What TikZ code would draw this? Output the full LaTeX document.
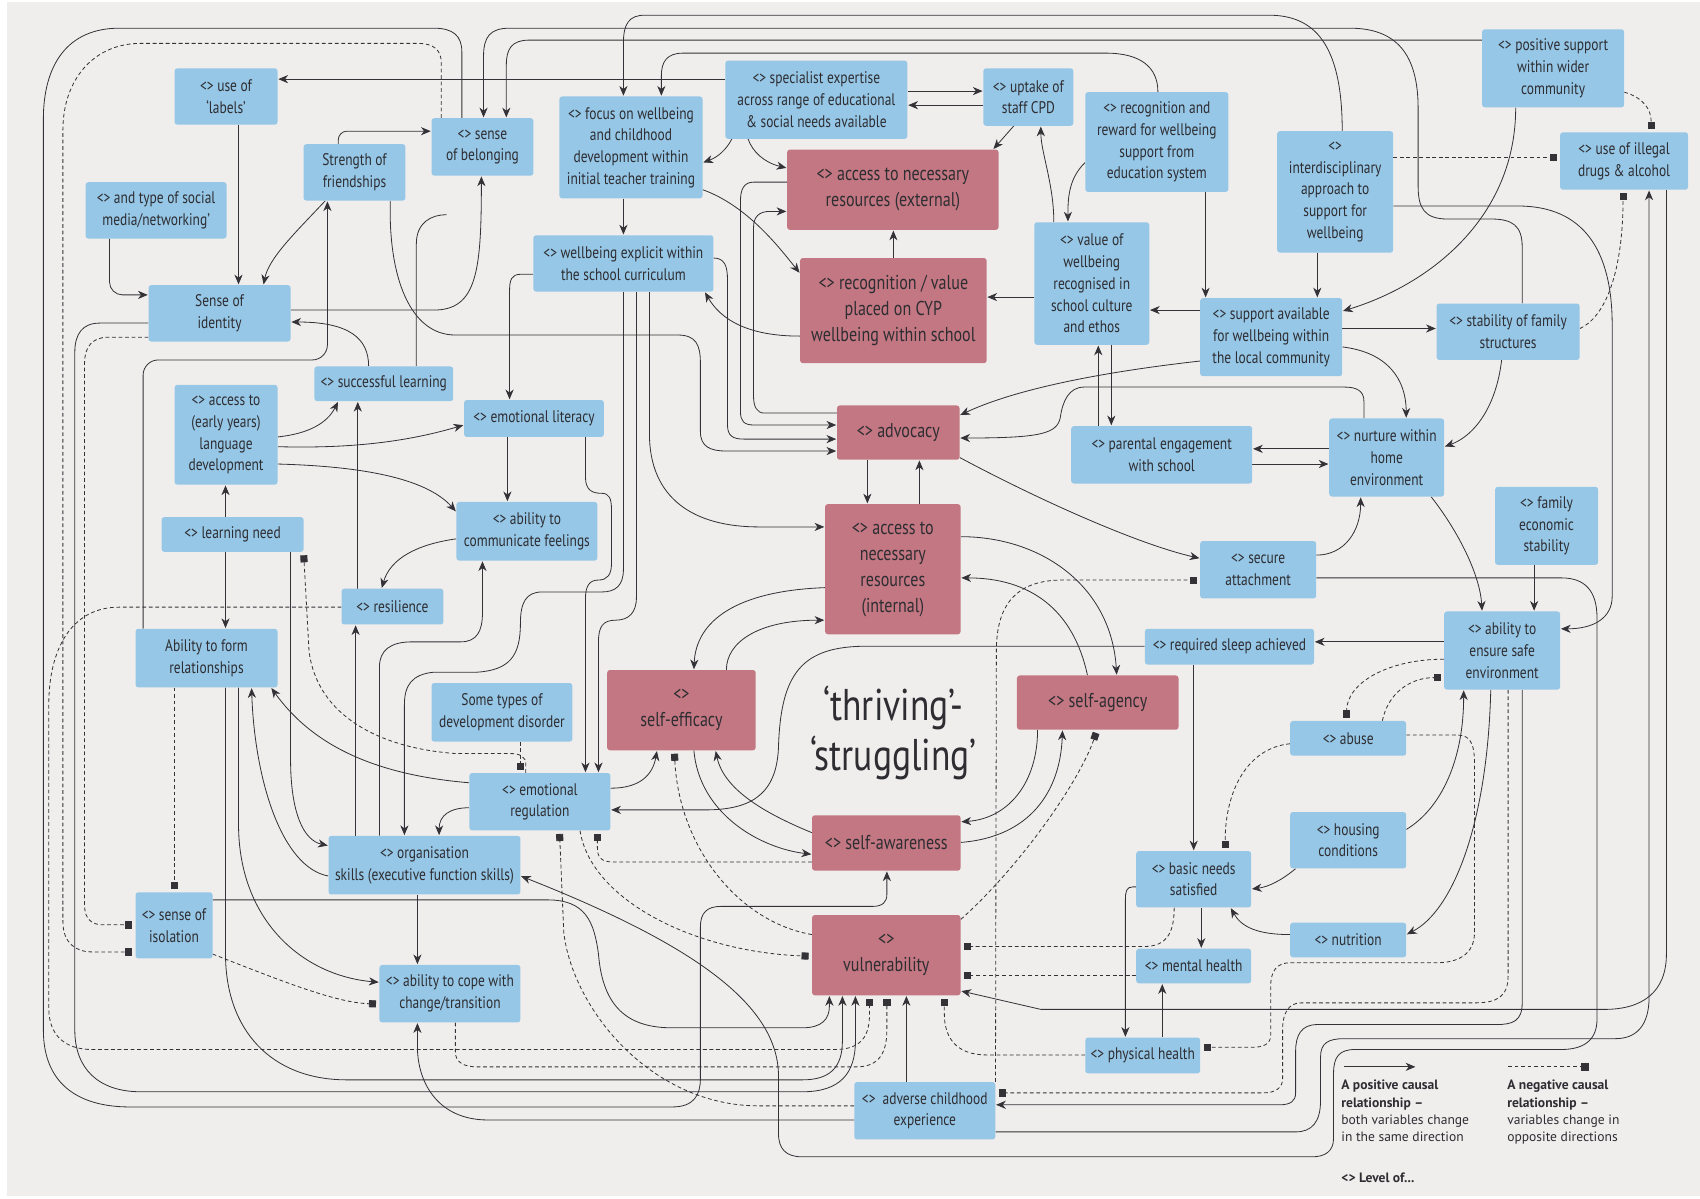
\documentclass[tikz,border=0pt]{standalone}
\usepackage{fontspec}
\setmainfont{PT Sans}[FakeStretch=0.8]
\newfontfamily\legfam{PT Sans}
\usetikzlibrary{arrows.meta}
\definecolor{bgc}{RGB}{240,238,237}
\definecolor{blu}{RGB}{150,199,230}
\definecolor{pnk}{RGB}{195,119,130}
\definecolor{txt}{RGB}{45,45,50}
\definecolor{ln}{RGB}{50,50,55}
\newcommand\nfnt{\fontsize{15.5}{20}\selectfont}
\newcommand\pfnt{\fontsize{18.5}{24}\selectfont}
\newcommand\tfnt{\fontsize{41}{46}\selectfont}
\newcommand\lfnt{\legfam\fontsize{12.5}{16}\selectfont}
\pgfdeclarelayer{back}
\pgfdeclarelayer{lines}
\pgfsetlayers{back,lines,main}
\tikzset{
  bn/.style={rectangle, rounded corners=2.5pt, fill=blu, text=txt, align=center, inner sep=1pt, font=\nfnt},
  pn/.style={bn, fill=pnk, font=\pfnt},
  posarr/.style={draw=ln, line width=0.75pt, -{Stealth[length=9pt,width=7.5pt,inset=2.8pt]}, shorten >=0.5pt},
  negarr/.style={draw=ln, line width=0.75pt, dash pattern=on 3.5pt off 2.5pt, -{Square[length=6.5pt,width=6.5pt]}, shorten >=3pt},
  plainln/.style={draw=ln, line width=0.75pt},
}
\begin{document}
\begin{tikzpicture}[x=1pt,y=-1pt]
\useasboundingbox (0,0) rectangle (1568,1105);
\begin{pgfonlayer}{back}
\fill[white] (0,0) rectangle (1568,1105);
\fill[bgc] (6,2) rectangle (1568,1103);
\end{pgfonlayer}

% ---------- blue nodes ----------
\node[bn, minimum width=95, minimum height=52] (labels) at (208.5,89) {<> use of\\‘labels’};
\node[bn, minimum width=94, minimum height=53] (belong) at (445,135.5) {<> sense\\of belonging};
\node[bn, minimum width=94, minimum height=52] (friend) at (327,159) {Strength of\\friendships};
\node[bn, minimum width=130, minimum height=52] (social) at (144,194) {<> and type of social\\media/networking’};
\node[bn, minimum width=131, minimum height=52] (identity) at (202.5,289) {Sense of\\identity};
\node[bn, minimum width=128, minimum height=32] (succ) at (354,354) {<> successful learning};
\node[bn, minimum width=95, minimum height=92] (lang) at (208.5,401) {<> access to\\(early years)\\language\\development};
\node[bn, minimum width=131, minimum height=32] (learnneed) at (214.5,493) {<> learning need};
\node[bn, minimum width=94, minimum height=33] (resil) at (362,559.5) {<> resilience};
\node[bn, minimum width=131, minimum height=54] (ablerel) at (190.5,607) {Ability to form\\relationships};
\node[bn, minimum width=71, minimum height=61] (isolation) at (160.5,853.5) {<> sense of\\isolation};
\node[bn, minimum width=177, minimum height=54] (org) at (391.5,798) {<> organisation\\skills (executive function skills)};
\node[bn, minimum width=130, minimum height=53] (cope) at (415,916.5) {<> ability to cope with\\change/transition};
\node[bn, minimum width=130, minimum height=54] (devdis) at (463,657) {Some types of\\development disorder};
\node[bn, minimum width=130, minimum height=53] (emoreg) at (498,739.5) {<> emotional\\regulation};
\node[bn, minimum width=129, minimum height=34] (emolit) at (492.5,386) {<> emotional literacy};
\node[bn, minimum width=130, minimum height=54] (commfeel) at (486,490) {<> ability to\\communicate feelings};
\node[bn, minimum width=166, minimum height=52] (curric) at (575,243) {<> wellbeing explicit within\\the school curriculum};
\node[bn, minimum width=132, minimum height=94] (focus) at (582,136) {<> focus on wellbeing\\and childhood\\development within\\initial teacher training};
\node[bn, minimum width=168, minimum height=72] (special) at (753,92) {<> specialist expertise\\across range of educational\\\& social needs available};
\node[bn, minimum width=83, minimum height=53] (cpd) at (948.5,89.5) {<> uptake of\\staff CPD};
\node[bn, minimum width=132, minimum height=92] (recog) at (1067,131) {<> recognition and\\reward for wellbeing\\support from\\education system};
\node[bn, minimum width=106, minimum height=113] (value) at (1007,261.5) {<> value of\\wellbeing\\recognised in\\school culture\\and ethos};
\node[bn, minimum width=107, minimum height=112] (interdis) at (1231.5,177) {<>\\interdisciplinary\\approach to\\support for\\wellbeing};
\node[bn, minimum width=131, minimum height=72] (possupp) at (1432.5,63) {<> positive support\\within wider\\community};
\node[bn, minimum width=118, minimum height=53] (drugs) at (1498,148.5) {<> use of illegal\\drugs \& alcohol};
\node[bn, minimum width=131, minimum height=72] (suppavail) at (1172.5,311) {<> support available\\for wellbeing within\\the local community};
\node[bn, minimum width=132, minimum height=52] (stabfam) at (1391,306) {<> stability of family\\structures};
\node[bn, minimum width=167, minimum height=53] (parent) at (1071.5,419.5) {<> parental engagement\\with school};
\node[bn, minimum width=106, minimum height=72] (nurture) at (1279,422) {<> nurture within\\home\\environment};
\node[bn, minimum width=95, minimum height=72] (famecon) at (1426.5,485) {<> family\\economic\\stability};
\node[bn, minimum width=107, minimum height=53] (secure) at (1160.5,525.5) {<> secure\\attachment};
\node[bn, minimum width=156, minimum height=33] (sleep) at (1134,596.5) {<> required sleep achieved};
\node[bn, minimum width=107, minimum height=72] (safeenv) at (1385.5,600) {<> ability to\\ensure safe\\environment};
\node[bn, minimum width=107, minimum height=32] (abuse) at (1243.5,681) {<> abuse};
\node[bn, minimum width=107, minimum height=52] (housing) at (1243.5,775) {<> housing\\conditions};
\node[bn, minimum width=106, minimum height=52] (basic) at (1101,811) {<> basic needs\\satisfied};
\node[bn, minimum width=107, minimum height=32] (nutrition) at (1243.5,867) {<> nutrition};
\node[bn, minimum width=106, minimum height=32] (mental) at (1101,891) {<> mental health};
\node[bn, minimum width=106, minimum height=33] (physical) at (1054,973.5) {<> physical health};
\node[bn, minimum width=130, minimum height=53] (adverse) at (853,1024.5) {<>\ \ adverse childhood\\experience};
% ---------- pink nodes ----------
\node[pn, minimum width=195, minimum height=74] (accext) at (823.5,175) {<> access to necessary\\resources (external)};
\node[pn, minimum width=172, minimum height=97] (recval) at (824,286.5) {<> recognition / value\\placed on CYP\\wellbeing within school};
\node[pn, minimum width=113, minimum height=50] (advocacy) at (828.5,399) {<> advocacy};
\node[pn, minimum width=125, minimum height=120] (accint) at (823.5,525) {<> access to\\necessary\\resources\\(internal)};
\node[pn, minimum width=137, minimum height=74] (efficacy) at (628.5,655) {<>\\self-efficacy};
\node[pn, minimum width=149, minimum height=50] (agency) at (1012.5,648) {<> self-agency};
\node[pn, minimum width=137, minimum height=51] (awareness) at (817.5,777.5) {<> self-awareness};
\node[pn, minimum width=137, minimum height=74] (vuln) at (817.5,881) {<>\\vulnerability};

\node[text=txt, font=\tfnt, align=center] (title) at (824,676) {‘thriving’-\\‘struggling’};

% ---------- legend ----------
\coordinate (lpa) at (1240,984); \coordinate (lpb) at (1306,984);
\coordinate (lna) at (1391,984); \coordinate (lnb) at (1465,984);
\draw[posarr] (lpa) -- (lpb);
\draw[negarr, shorten >=0pt] (lna) -- (lnb);
\node[anchor=north west, align=left, text=txt, font=\lfnt, inner sep=0] (legp) at (1237,996) {\textbf{A positive causal}\\\textbf{relationship –}\\both variables change\\in the same direction};
\node[anchor=north west, align=left, text=txt, font=\lfnt, inner sep=0] (legn) at (1390,996) {\textbf{A negative causal}\\\textbf{relationship –}\\variables change in\\opposite directions};
\node[anchor=west, text=txt, font=\lfnt, inner sep=0] (legl) at (1237,1086) {\textbf{<> Level of...}};

\begin{pgfonlayer}{lines}
% ---------- top-left ----------
\draw[posarr] (special.west |- 0,73) -- (labels.east |- 0,73);
\draw[posarr] (labels.south -| 220,0) -- (identity.north -| 220,0);
\draw[posarr, rounded corners=12] (social.south -| 101,0) -- (101,272) -- (identity.west |- 0,272);
\draw[posarr] (friend.south -| 300,0) .. controls (272,215) and (248,238) .. (identity.north -| 243,0);
\draw[posarr, rounded corners=8] (friend.north -| 312,0) -- (312,121) -- (belong.west |- 0,121);
\draw[posarr] (succ.north -| 340,0) .. controls (340,312) and (322,297) .. (identity.east |- 0,297);
\draw[posarr, rounded corners=14] (ablerel.north -| 132,0) -- (132,332) -- (302,332) -- (friend.south -| 302,0);
\draw[posarr] (identity.east |- 0,286) -- (400,286) .. controls (440,286) and (444,250) .. (belong.south -| 444,0);
\coordinate (succend) at (412,198);
\draw[plainln] (succ.north -| 384,0) -- (384,225) .. controls (384,205) and (398,198) .. (succend);
\draw[posarr] (friend.south -| 360,0) .. controls (358,255) and (378,309) .. (420,309) -- (625,309) .. controls (642,309) and (646,318) .. (646,335) -- (646,398) .. controls (646,412) and (655,416) .. (670,416) -- (advocacy.west |- 0,416);

% ---------- top long lines ----------
\draw[posarr] (interdis.north -| 1238,0) .. controls (1238,40) and (1212,14) .. (1170,14) -- (595,14) .. controls (580,14) and (575,22) .. (575,40) -- (focus.north -| 575,0);
\draw[posarr] (stabfam.north -| 1404,0) -- (1404,228) .. controls (1404,208) and (1395,202) .. (1375,202) -- (1335,202) .. controls (1314,202) and (1308,192) .. (1308,172) -- (1308,100) .. controls (1308,50) and (1288,26) .. (1245,26) -- (470,26) .. controls (452,26) and (446,34) .. (446,52) -- (belong.north -| 446,0);
\draw[posarr] (possupp.west |- 0,37) -- (488,37) .. controls (472,37) and (467,45) .. (467,60) -- (belong.north -| 467,0);
\draw[posarr] (recog.north -| 1068,0) .. controls (1068,62) and (1052,49) .. (1020,49) -- (630,49) .. controls (615,49) and (610,57) .. (610,70) -- (focus.north -| 610,0);
\draw[posarr] (belong.north -| 426,0) -- (426,48) .. controls (426,33) and (418,26) .. (400,26) -- (110,26) .. controls (62,26) and (40,60) .. (40,110) -- (40,950) .. controls (40,998) and (70,1021) .. (120,1021) -- (620,1021) .. controls (640,1021) and (646,1010) .. (646,995) -- (646,855) .. controls (646,842) and (652,836) .. (665,836) -- (805,836) .. controls (814,836) and (818,832) .. (818,825) -- (awareness.south -| 818,0);
\draw[negarr] (belong.north -| 407,0) -- (407,58) .. controls (407,46) and (400,40) .. (385,40) -- (130,40) .. controls (85,40) and (58,75) .. (58,120) -- (58,850) .. controls (58,870) and (70,878) .. (85,878) -- (isolation.west |- 0,878);
\draw[posarr] (identity.west |- 0,298) -- (92,298) .. controls (76,298) and (69,308) .. (69,325) -- (69,950) .. controls (69,985) and (90,1007) .. (130,1007) -- (740,1007) .. controls (775,1007) and (789,990) .. (789,960) -- (vuln.south -| 789,0);
\draw[negarr] (identity.west |- 0,311) -- (100,311) .. controls (85,311) and (78,320) .. (78,335) -- (78,835) .. controls (78,848) and (85,853) .. (95,853) -- (isolation.west |- 0,853);
\draw[negarr] (resil.west |- 0,560) -- (110,560) .. controls (65,560) and (45,600) .. (45,650) -- (45,930) .. controls (45,955) and (60,968) .. (85,968) -- (770,968) .. controls (795,968) and (802,955) .. (802,935) -- (vuln.south -| 802,0);
\draw[posarr] (ablerel.south -| 208,0) -- (208,880) .. controls (208,950) and (250,996) .. (320,996) -- (740,996) .. controls (765,996) and (777,985) .. (777,960) -- (vuln.south -| 777,0);
\draw[negarr] (cope.south -| 420,0) -- (420,970) .. controls (420,980) and (428,984) .. (440,984) -- (790,984) .. controls (810,984) and (818,972) .. (818,950) -- (vuln.south -| 818,0);
\draw[posarr] (isolation.east |- 0,830) -- (505,830) .. controls (540,830) and (548,850) .. (552,880) .. controls (556,930) and (580,948) .. (620,948) -- (740,948) .. controls (758,948) and (765,940) .. (765,928) -- (vuln.south -| 765,0);
\draw[posarr] (adverse.north -| 836,0) -- (vuln.south -| 836,0);
\draw[negarr] (physical.west |- 0,973) -- (910,973) .. controls (880,973) and (871,955) .. (871,935) -- (vuln.south -| 871,0);
\draw[negarr] (basic.south -| 1083,0) .. controls (1083,862) and (1075,873) .. (1055,873) -- (vuln.east |- 0,873);
\draw[negarr] (mental.west |- 0,900) -- (vuln.east |- 0,900);
\draw[posarr] (drugs.south -| 1537,0) -- (1537,880) .. controls (1537,915) and (1515,931) .. (1480,931) -- (960,931) -- (vuln.east |- 0,914);
\draw[posarr] (adverse.west |- 0,1033) -- (450,1033) .. controls (405,1033) and (385,1000) .. (385,965) -- (cope.south -| 385,0);
\draw[negarr] (adverse.west |- 0,1020) -- (700,1020) .. controls (600,1020) and (528,930) .. (520,860) -- (emoreg.south -| 516,0);
\draw[negarr] (emoreg.south -| 535,0) .. controls (545,830) and (640,878) .. (vuln.west |- 0,882);
\draw[negarr] (awareness.west |- 0,795) -- (565,795) .. controls (554,795) and (551,790) .. (551,782) -- (emoreg.south -| 551,0);
\draw[negarr] (vuln.west |- 0,862) .. controls (680,850) and (626,780) .. (efficacy.south -| 622,0);
\draw[posarr] (emoreg.east |- 0,727) .. controls (590,727) and (602,715) .. (efficacy.south -| 606,0);
\draw[posarr] (efficacy.south -| 640,0) .. controls (645,750) and (700,782) .. (awareness.west |- 0,788);
\draw[posarr] (awareness.west |- 0,768) .. controls (710,752) and (668,730) .. (efficacy.south -| 660,0);
\draw[posarr] (accint.west |- 0,542) .. controls (680,545) and (642,572) .. (efficacy.north -| 640,0);
\draw[posarr] (efficacy.north -| 670,0) .. controls (670,592) and (700,572) .. (accint.west |- 0,572);
\draw[posarr] (sleep.west |- 0,596) -- (800,596) .. controls (740,596) and (720,620) .. (718,690) .. controls (716,735) and (690,747) .. (650,747) -- (emoreg.east |- 0,747);
\draw[posarr] (accint.east |- 0,495) .. controls (960,495) and (1025,540) .. (agency.north -| 1030,0);
\draw[posarr] (agency.north -| 1003,0) .. controls (990,562) and (950,533) .. (accint.east |- 0,533);
\draw[posarr] (agency.south -| 957,0) .. controls (957,722) and (930,755) .. (awareness.east |- 0,758);
\draw[posarr] (awareness.east |- 0,777) .. controls (950,772) and (978,730) .. (agency.south -| 980,0);
\draw[negarr] (vuln.east |- 0,848) .. controls (940,800) and (995,722) .. (agency.south -| 1012,0);
\draw[negarr] (adverse.north east) -- (919,600) .. controls (919,555) and (940,535) .. (980,535) -- (secure.west |- 0,535);
\draw[posarr] (advocacy.east |- 0,422) .. controls (960,462) and (1050,502) .. (secure.west |- 0,515);
\draw[posarr] (advocacy.south -| 800,0) -- (accint.north -| 800,0);
\draw[posarr] (accint.north -| 848,0) -- (advocacy.south -| 848,0);
\draw[posarr] (suppavail.west |- 0,333) .. controls (1000,345) and (930,362) .. (advocacy.east |- 0,383);
\draw[posarr] (nurture.north -| 1258,0) -- (1258,370) .. controls (1258,361) and (1252,357) .. (1240,357) -- (1000,357) .. controls (986,357) and (980,370) .. (978,385) .. controls (975,400) and (960,404) .. (advocacy.east |- 0,404);
\draw[posarr] (value.south -| 1025,0) -- (parent.north -| 1025,0);
\draw[posarr] (parent.north -| 1013,0) -- (value.south -| 1013,0);
\draw[posarr] (nurture.west |- 0,414) -- (parent.east |- 0,414);
\draw[posarr] (parent.east |- 0,428) -- (nurture.west |- 0,428);
\draw[posarr] (suppavail.east |- 0,320) .. controls (1280,325) and (1297,350) .. (nurture.north -| 1297,0);
\draw[posarr] (stabfam.south -| 1385,0) .. controls (1380,375) and (1360,402) .. (nurture.east |- 0,412);
\draw[posarr] (secure.east |- 0,512) .. controls (1240,512) and (1255,490) .. (nurture.south -| 1255,0);
\draw[posarr] (nurture.south -| 1320,0) .. controls (1345,490) and (1365,530) .. (safeenv.north -| 1367,0);
\draw[posarr] (famecon.south -| 1415,0) -- (safeenv.north -| 1415,0);
\draw[posarr] (safeenv.west |- 0,592) -- (sleep.east |- 0,592);
\draw[posarr] (sleep.south -| 1101,0) -- (basic.north -| 1101,0);
\draw[negarr] (abuse.west |- 0,686) .. controls (1150,690) and (1130,730) .. (basic.north -| 1130,0);
\draw[negarr] (safeenv.west |- 0,608) .. controls (1280,608) and (1242,630) .. (abuse.north -| 1242,0);
\draw[negarr] (abuse.north -| 1275,0) .. controls (1280,640) and (1300,625) .. (safeenv.west |- 0,625);
\draw[posarr] (housing.east |- 0,765) .. controls (1330,745) and (1350,700) .. (safeenv.south -| 1350,0);
\draw[posarr] (safeenv.south -| 1375,0) .. controls (1372,760) and (1340,840) .. (nutrition.east |- 0,862);
\draw[posarr] (housing.south -| 1195,0) .. controls (1182,812) and (1170,818) .. (basic.east |- 0,820);
\draw[posarr] (nutrition.west |- 0,862) .. controls (1160,862) and (1145,855) .. (basic.south -| 1135,0);
\draw[posarr] (basic.south -| 1108,0) -- (mental.north -| 1108,0);
\draw[posarr] (basic.west |- 0,818) -- (1045,818) .. controls (1039,818) and (1038,822) .. (1038,830) -- (physical.north -| 1038,0);
\draw[posarr] (physical.north -| 1072,0) -- (mental.south -| 1072,0);
\draw[negarr] (abuse.east |- 0,678) -- (1345,678) .. controls (1358,678) and (1360,690) .. (1360,705) -- (1360,860) .. controls (1360,880) and (1345,888) .. (1325,888) -- (1190,888) .. controls (1178,888) and (1172,895) .. (1172,910) -- (1172,955) .. controls (1172,963) and (1165,966) .. (1155,966) -- (physical.east |- 0,966);
\draw[negarr] (safeenv.south -| 1391,0) -- (1391,900) .. controls (1391,920) and (1380,925) .. (1360,925) -- (1200,925) .. controls (1188,925) and (1183,935) .. (1183,950) -- (1183,995) .. controls (1183,1003) and (1177,1008) .. (1165,1008) -- (adverse.east |- 0,1008);
\draw[posarr] (safeenv.south -| 1404,0) -- (1404,925) .. controls (1404,942) and (1395,945) .. (1380,945) -- (1215,945) .. controls (1200,945) and (1195,955) .. (1195,970) -- (1195,1008) .. controls (1195,1016) and (1190,1019) .. (1180,1019) -- (adverse.east |- 0,1019);
\draw[posarr] (adverse.east |- 0,1044) -- (1195,1044) .. controls (1210,1044) and (1218,1035) .. (1218,1015) -- (1218,975) .. controls (1218,962) and (1225,958) .. (1240,958) -- (1490,958) .. controls (1510,958) and (1521,945) .. (1521,920) -- (drugs.south -| 1521,0);
\draw[posarr] (secure.east |- 0,533) -- (1440,533) .. controls (1462,533) and (1473,545) .. (1473,570) -- (1473,940) .. controls (1473,960) and (1460,968) .. (1440,968) -- (1250,968) .. controls (1235,968) and (1230,975) .. (1230,990) -- (1230,1050) .. controls (1230,1062) and (1222,1067) .. (1210,1067) -- (740,1067) .. controls (725,1067) and (718,1060) .. (718,1045) -- (718,990) .. controls (716,930) and (650,875) .. (org.east |- 0,808);
\draw[posarr] (interdis.east |- 0,190) -- (1400,190) .. controls (1460,190) and (1487,230) .. (1487,300) -- (1487,550) .. controls (1487,570) and (1470,580) .. (safeenv.east |- 0,580);
\draw[posarr] (possupp.south -| 1398,0) .. controls (1398,200) and (1320,262) .. (suppavail.east |- 0,287);
\draw[negarr] (interdis.east |- 0,145) -- (drugs.west |- 0,145);
\draw[negarr] (possupp.east |- 0,85) .. controls (1515,90) and (1523,100) .. (drugs.north -| 1523,0);
\draw[negarr] (stabfam.east |- 0,303) .. controls (1485,290) and (1497,240) .. (drugs.south -| 1497,0);
\draw[posarr] (interdis.south -| 1215,0) -- (suppavail.north -| 1215,0);
\draw[posarr] (recog.south -| 1112,0) -- (suppavail.north -| 1112,0);
\draw[posarr] (suppavail.west |- 0,286) -- (value.east |- 0,286);
\draw[posarr] (suppavail.east |- 0,303) -- (stabfam.west |- 0,303);
\draw[posarr] (recog.west |- 0,150) .. controls (985,165) and (985,185) .. (value.north -| 985,0);
\draw[posarr] (value.north -| 972,0) .. controls (972,170) and (960,140) .. (cpd.south -| 960,0);
\draw[posarr] (cpd.south -| 935,0) -- (accext.north -| 916,0);
\draw[posarr] (special.east |- 0,84) -- (cpd.west |- 0,84);
\draw[posarr] (cpd.west |- 0,97) -- (special.east |- 0,97);
\draw[posarr] (special.south -| 675,0) .. controls (670,138) and (662,145) .. (focus.east |- 0,150);
\draw[posarr] (special.south -| 690,0) .. controls (694,140) and (705,150) .. (accext.west |- 0,155);
\draw[posarr] (focus.east |- 0,175) .. controls (690,190) and (720,230) .. (recval.west |- 0,252);
\draw[posarr] (recval.north -| 824,0) -- (accext.south -| 824,0);
\draw[posarr] (value.west |- 0,274) -- (recval.east |- 0,274);
\draw[posarr] (recval.west |- 0,310) .. controls (690,310) and (665,295) .. (curric.south -| 650,0);
\draw[posarr] (focus.south -| 575,0) -- (curric.north -| 575,0);
\draw[posarr] (curric.east |- 0,238) .. controls (668,238) and (671,245) .. (671,258) -- (671,392) .. controls (671,402) and (676,405) .. (686,405) -- (advocacy.west |- 0,405);
\draw[posarr] (accext.west |- 0,168) -- (695,168) .. controls (686,168) and (683,175) .. (683,185) -- (683,380) .. controls (683,388) and (686,392) .. (695,392) -- (advocacy.west |- 0,392);
\draw[posarr] (advocacy.west |- 0,381) -- (705,381) .. controls (698,381) and (695,375) .. (695,365) -- (695,210) .. controls (695,200) and (700,195) .. (710,195) -- (accext.west |- 0,195);
\draw[posarr] (curric.south -| 599,0) -- (599,400) .. controls (599,460) and (640,486) .. (700,486) -- (accint.west |- 0,486);
\draw[posarr] (curric.south -| 587,0) -- (587,551) .. controls (587,565) and (580,572) .. (568,572) .. controls (556,572) and (552,578) .. (552,592) -- (emoreg.north -| 552,0);
\draw[posarr] (emolit.south -| 540,0) -- (540,440) .. controls (540,452) and (546,455) .. (555,455) .. controls (562,455) and (564,460) .. (564,470) -- (564,520) .. controls (564,530) and (560,535) .. (552,535) .. controls (544,535) and (540,540) .. (540,552) -- (emoreg.north -| 540,0);
\draw[posarr] (curric.south -| 575,0) -- (575,525) .. controls (575,540) and (568,546) .. (555,546) -- (500,546) .. controls (485,546) and (480,556) .. (480,575) .. controls (480,605) and (470,618) .. (440,620) -- (400,620) .. controls (380,622) and (373,632) .. (373,650) -- (org.north -| 373,0);
\draw[posarr] (org.north -| 350,0) -- (350,615) .. controls (350,600) and (360,592) .. (380,592) -- (425,592) .. controls (440,592) and (445,582) .. (445,565) -- (commfeel.south -| 445,0);
\draw[posarr] (emolit.south -| 468,0) -- (commfeel.north -| 468,0);
\draw[posarr] (curric.west |- 0,253) -- (480,253) .. controls (472,253) and (470,258) .. (470,268) -- (emolit.north -| 470,0);
\draw[posarr] (lang.east |- 0,403) .. controls (285,400) and (302,390) .. (succ.south -| 312,0);
\draw[posarr] (lang.east |- 0,412) .. controls (330,414) and (380,406) .. (emolit.west |- 0,392);
\draw[posarr] (lang.east |- 0,428) .. controls (330,430) and (392,440) .. (commfeel.west |- 0,472);
\draw[posarr] (learnneed.north -| 208,0) -- (lang.south -| 208,0);
\draw[posarr] (learnneed.south -| 208,0) -- (ablerel.north -| 208,0);
\draw[posarr] (org.north -| 328,0) -- (resil.south -| 328,0);
\draw[posarr] (resil.north -| 330,0) -- (succ.south -| 330,0);
\draw[posarr] (commfeel.west |- 0,497) .. controls (385,502) and (360,515) .. (resil.north -| 352,0);
\draw[negarr] (emoreg.north -| 485,0) -- (485,705) .. controls (485,698) and (480,695) .. (470,695) -- (420,695) .. controls (350,690) and (292,660) .. (285,600) -- (learnneed.south -| 280,0);
\draw[negarr] (devdis.south -| 480,0) -- (emoreg.north -| 480,0);
\draw[posarr] (emoreg.west |- 0,722) .. controls (350,715) and (290,690) .. (ablerel.south -| 250,0);
\draw[posarr] (emoreg.west |- 0,745) .. controls (415,745) and (405,752) .. (org.north -| 405,0);
\draw[posarr] (org.west |- 0,808) .. controls (260,800) and (235,720) .. (ablerel.south -| 232,0);
\draw[posarr] (learnneed.south -| 268,0) -- (268,700) .. controls (268,750) and (280,775) .. (org.west |- 0,780);
\draw[posarr] (ablerel.south -| 220,0) -- (220,760) .. controls (220,850) and (280,900) .. (cope.west |- 0,906);
\draw[negarr] (ablerel.south -| 161,0) -- (isolation.north -| 161,0);
\draw[negarr] (isolation.east |- 0,880) .. controls (260,905) and (310,925) .. (cope.west |- 0,926);
\draw[posarr] (org.south -| 385,0) -- (cope.north -| 385,0);
\end{pgfonlayer}
\end{tikzpicture}
\end{document}
